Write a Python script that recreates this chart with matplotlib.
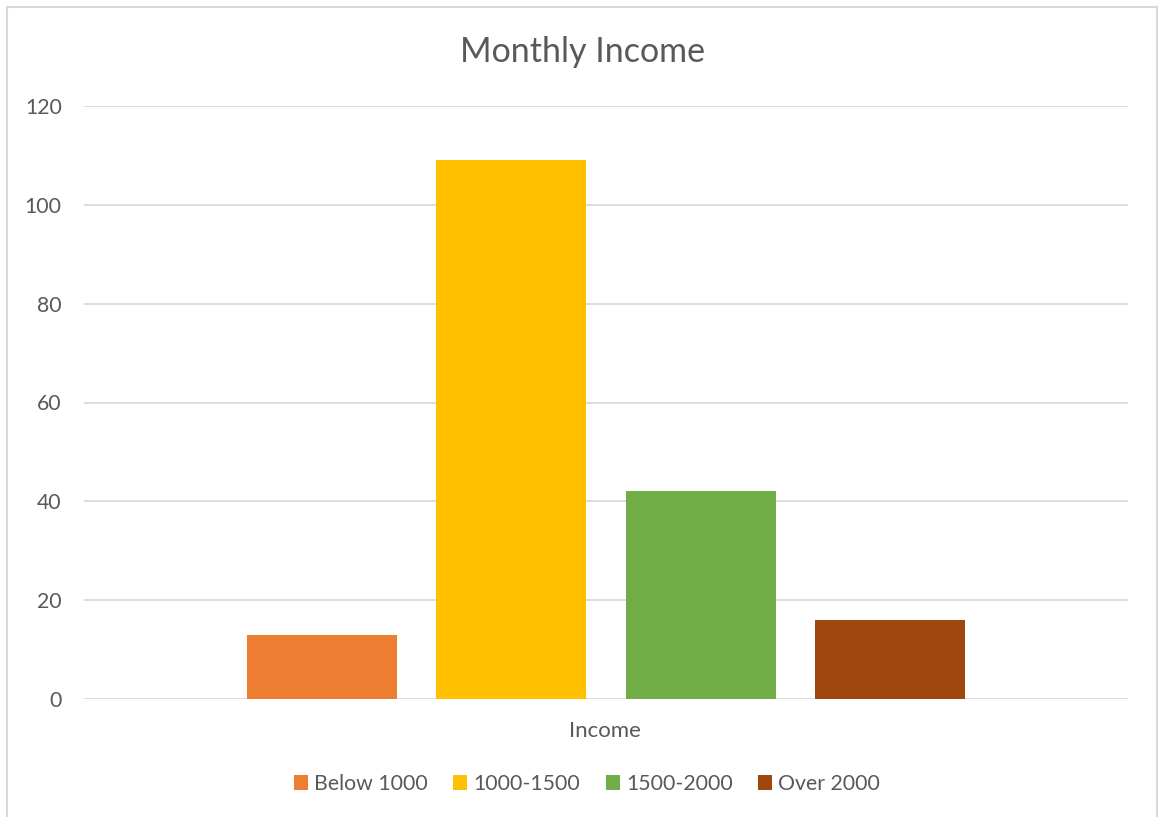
import matplotlib
matplotlib.use("Agg")
import matplotlib.pyplot as plt
from matplotlib.patches import Rectangle, Patch

categories = ["Below 1000", "1000-1500", "1500-2000", "Over 2000"]
counts = [13, 109, 42, 16]
colors = ["#ED7D31", "#FFC000", "#70AD47", "#9E480E"]
yticks = [0, 20, 40, 60, 80, 100, 120]

plt.rcParams['font.family'] = ['Lato', 'DejaVu Sans']
text_color = "#595959"
grid_color = "#d9d9d9"

W, H = 1161, 817
fig = plt.figure(figsize=(W / 100, H / 100), dpi=100)
fig.patch.set_facecolor("white")

# outer chart border
fig.add_artist(Rectangle((7 / W, -0.01), 1150 / W, 1 - 7 / H + 0.01,
                         transform=fig.transFigure, fill=False,
                         edgecolor=grid_color, linewidth=1.5))

ax = fig.add_axes([84 / W, 1 - 699 / H, (1128 - 84) / W, (699 - 106) / H])
x = list(range(len(categories)))
ax.bar(x, counts, width=0.79, color=colors, zorder=3)
ax.set_xlim(-1.255, 4.255)
ax.set_ylim(0, 120)
ax.set_yticks(yticks)
ax.set_yticklabels([str(v) for v in yticks], fontsize=15.3, color=text_color)
ax.set_xticks([])
ax.tick_params(axis='y', length=0, pad=16)
for s in ax.spines.values():
    s.set_visible(False)
ax.yaxis.grid(True, color=grid_color, linewidth=1.3, zorder=0)

fig.text(582 / W, 1 - 52 / H, "Monthly Income", ha="center", va="center",
         fontsize=24.5, color=text_color)
fig.text(605 / W, 1 - 731 / H, "Income", ha="center", va="center",
         fontsize=16, color=text_color)

handles = [Patch(facecolor=c, edgecolor='none') for c in colors]
fig.legend(handles, categories, loc="center", bbox_to_anchor=(587 / W, 1 - 784 / H),
           ncol=4, frameon=False, fontsize=15.3, labelcolor=text_color,
           handlelength=0.65, handleheight=0.65, handletextpad=0.3,
           columnspacing=1.2)

fig.savefig("out.png", dpi=100, facecolor="white")
